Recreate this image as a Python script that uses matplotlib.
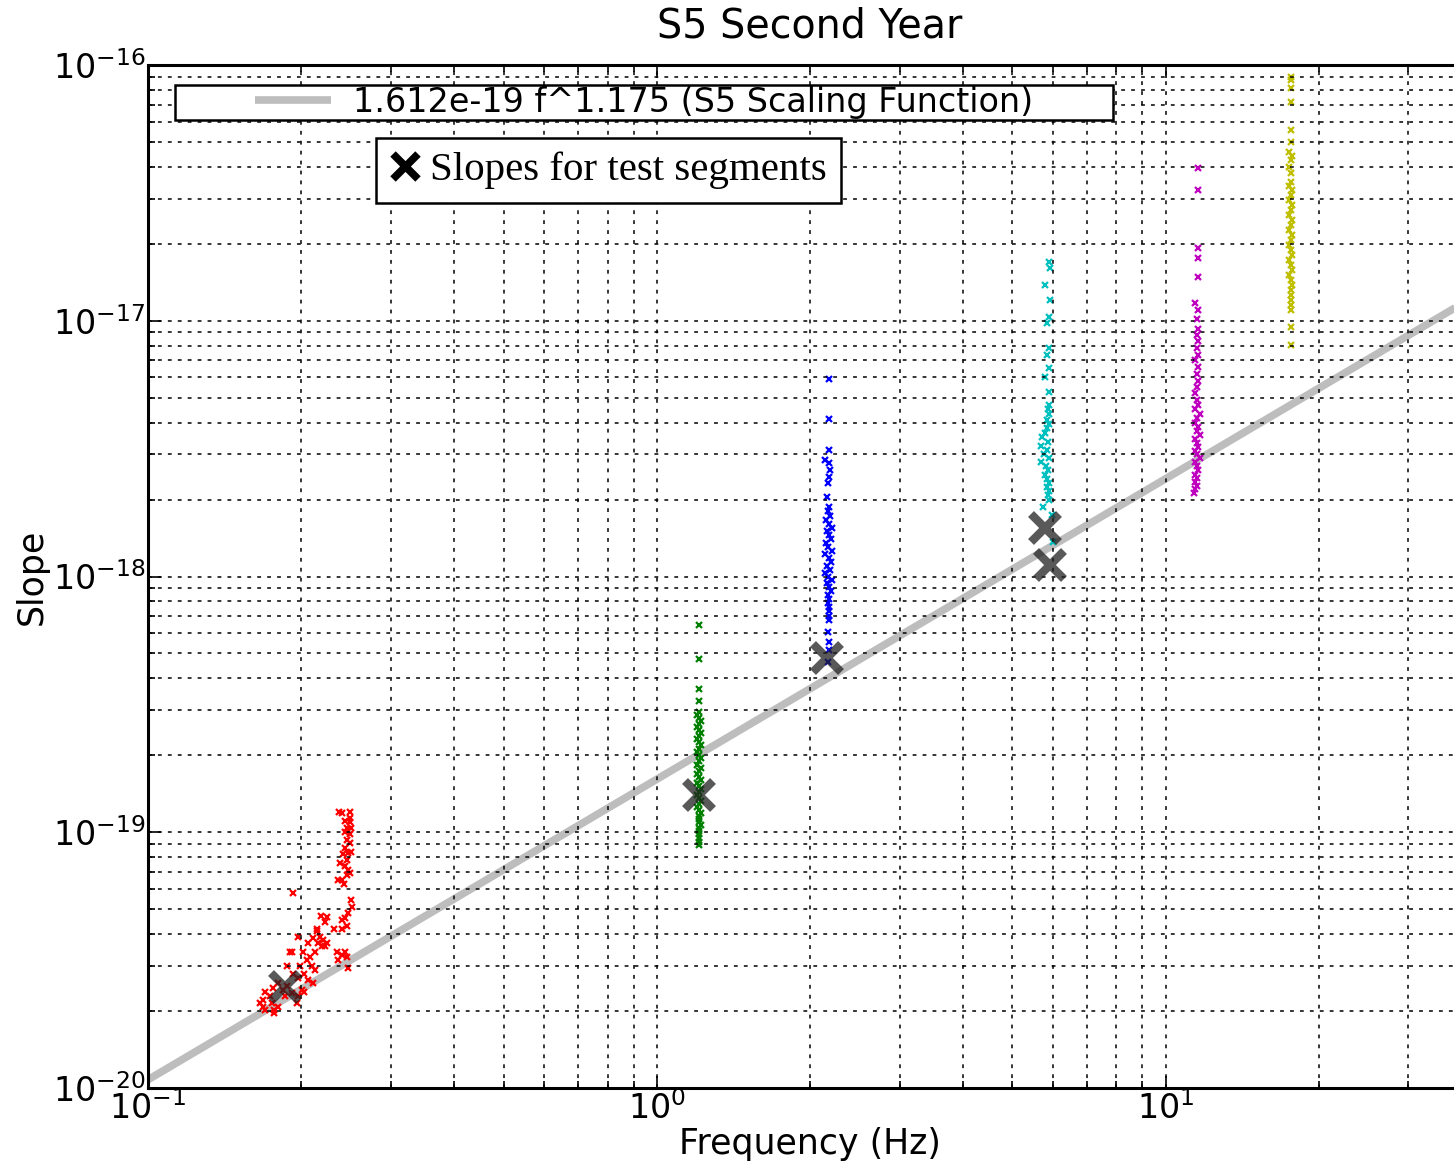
import matplotlib
matplotlib.use("Agg")
import matplotlib.pyplot as plt
from matplotlib.lines import Line2D
from matplotlib.patches import Rectangle
import numpy as np

# ---------------- data ----------------
fit_coef = 1.612e-19
fit_exp = 1.175
fit_f_range = [0.1, 40.0]

# slopes for test segments (big X markers)
test_f = [0.186, 1.209, 2.158, 5.78, 5.92]
test_s = [2.48e-20, 1.40e-19, 4.80e-19, 1.55e-18, 1.11e-18]

# red cluster
red_f = [0.237, 0.241, 0.249, 0.250, 0.244, 0.250, 0.246, 0.251, 0.244, 0.249,
         0.246, 0.250, 0.244, 0.251, 0.247, 0.242, 0.246, 0.238, 0.244, 0.247,
         0.249, 0.246, 0.236, 0.243, 0.241, 0.193,
         0.251, 0.252, 0.247, 0.244, 0.241, 0.225, 0.219, 0.215, 0.223, 0.232,
         0.241, 0.246, 0.215, 0.218, 0.221, 0.225, 0.220, 0.216, 0.211, 0.223,
         0.197, 0.206, 0.202, 0.208, 0.213, 0.190, 0.192, 0.235, 0.241, 0.244,
         0.246, 0.236, 0.247, 0.205, 0.199, 0.188, 0.210, 0.213, 0.203, 0.206,
         0.197, 0.193, 0.211, 0.203, 0.201, 0.176, 0.170, 0.174, 0.168, 0.166,
         0.168, 0.175, 0.177, 0.180, 0.186, 0.192, 0.197, 0.196, 0.184, 0.188,
         0.180, 0.170, 0.177]
red_s = [1.20e-19, 1.19e-19, 1.20e-19, 1.14e-19, 1.11e-19, 1.10e-19, 1.04e-19, 1.04e-19, 1.00e-19, 9.8e-20,
         9.3e-20, 9.1e-20, 8.7e-20, 8.4e-20, 8.3e-20, 8.2e-20, 7.8e-20, 7.6e-20, 7.4e-20, 7.1e-20,
         6.9e-20, 6.8e-20, 6.5e-20, 6.3e-20, 6.5e-20, 5.8e-20,
         5.43e-20, 5.1e-20, 4.85e-20, 4.6e-20, 4.54e-20, 4.65e-20, 4.7e-20, 4.2e-20, 4.45e-20, 4.2e-20,
         4.2e-20, 4.3e-20, 4.1e-20, 3.9e-20, 3.8e-20, 3.7e-20, 3.6e-20, 3.7e-20, 3.85e-20, 3.6e-20,
         3.9e-20, 3.7e-20, 3.4e-20, 3.26e-20, 3.4e-20, 3.4e-20, 3.4e-20, 3.4e-20, 3.3e-20, 3.4e-20,
         3.25e-20, 3.16e-20, 2.95e-20, 3.16e-20, 3.0e-20, 3.0e-20, 3.0e-20, 2.89e-20, 2.8e-20, 2.64e-20,
         2.7e-20, 2.8e-20, 2.57e-20, 2.38e-20, 2.42e-20, 2.46e-20, 2.38e-20, 2.28e-20, 2.21e-20, 2.15e-20,
         2.08e-20, 2.15e-20, 2.02e-20, 2.08e-20, 2.28e-20, 2.36e-20, 2.28e-20, 2.15e-20, 2.42e-20, 2.5e-20,
         2.57e-20, 2.02e-20, 1.96e-20]

# green column
green_f = [1.21, 1.21, 1.21, 1.21, 1.21, 1.20, 1.21, 1.22, 1.21, 1.20,
           1.21, 1.22, 1.21, 1.20, 1.21, 1.22, 1.21, 1.20, 1.21, 1.22,
           1.21, 1.20, 1.22, 1.21, 1.20, 1.21, 1.22, 1.20, 1.21, 1.22,
           1.21, 1.20, 1.21, 1.22, 1.21, 1.20, 1.21, 1.22, 1.21, 1.21,
           1.21, 1.22, 1.21, 1.21, 1.21, 1.21, 1.21, 1.21]
green_s = [6.46e-19, 4.75e-19, 3.63e-19, 3.26e-19, 2.95e-19, 2.88e-19, 2.80e-19, 2.72e-19, 2.66e-19, 2.58e-19,
           2.51e-19, 2.45e-19, 2.38e-19, 2.31e-19, 2.25e-19, 2.19e-19, 2.12e-19, 2.06e-19, 2.00e-19, 1.95e-19,
           1.90e-19, 1.84e-19, 1.79e-19, 1.74e-19, 1.69e-19, 1.65e-19, 1.60e-19, 1.56e-19, 1.52e-19, 1.48e-19,
           1.44e-19, 1.40e-19, 1.36e-19, 1.32e-19, 1.29e-19, 1.25e-19, 1.22e-19, 1.19e-19, 1.16e-19, 1.13e-19,
           1.10e-19, 1.07e-19, 1.04e-19, 1.01e-19, 9.8e-20, 9.5e-20, 9.2e-20, 8.9e-20]

# blue column
blue_f = [2.18, 2.18, 2.18, 2.14, 2.18, 2.19, 2.18, 2.17, 2.16,
          2.18, 2.17, 2.19, 2.15, 2.18, 2.21, 2.16, 2.18, 2.20, 2.15,
          2.17, 2.21, 2.14, 2.18, 2.20, 2.16, 2.19, 2.14, 2.17, 2.21,
          2.16, 2.18, 2.20, 2.17, 2.18, 2.17, 2.18, 2.18, 2.18, 2.18,
          2.17, 2.18, 2.18, 2.17]
blue_s = [5.92e-18, 4.13e-18, 3.13e-18, 2.85e-18, 2.78e-18, 2.61e-18, 2.45e-18, 2.32e-18, 2.05e-18,
          1.87e-18, 1.80e-18, 1.73e-18, 1.66e-18, 1.60e-18, 1.55e-18, 1.50e-18, 1.45e-18, 1.40e-18, 1.35e-18,
          1.30e-18, 1.26e-18, 1.22e-18, 1.18e-18, 1.14e-18, 1.10e-18, 1.06e-18, 1.03e-18, 1.00e-18, 9.7e-19,
          9.4e-19, 9.1e-19, 8.8e-19, 8.5e-19, 8.2e-19, 7.9e-19, 7.6e-19, 7.3e-19, 7.0e-19, 6.76e-19,
          6.07e-19, 5.55e-19, 5.16e-19, 4.63e-19]

# cyan column
cyan_f = [5.89, 5.93, 5.80, 5.93, 5.89, 5.84, 5.89, 5.84, 5.89, 5.80, 5.89,
          5.89, 5.87, 5.89, 5.85, 5.89, 5.84, 5.80, 5.72, 5.87, 5.68, 5.84,
          5.76, 5.89, 5.70, 5.82, 5.87, 5.80, 5.84, 5.89, 5.84, 5.89, 5.87,
          5.89, 5.73, 5.97, 6.00]
cyan_s = [1.70e-17, 1.61e-17, 1.38e-17, 1.21e-17, 1.03e-17, 9.8e-18, 7.82e-18, 7.35e-18, 6.53e-18, 6.03e-18, 5.26e-18,
          4.69e-18, 4.50e-18, 4.30e-18, 4.10e-18, 3.95e-18, 3.80e-18, 3.65e-18, 3.50e-18, 3.37e-18, 3.25e-18, 3.13e-18,
          3.02e-18, 2.91e-18, 2.80e-18, 2.70e-18, 2.60e-18, 2.50e-18, 2.41e-18, 2.32e-18, 2.24e-18, 2.16e-18, 2.08e-18,
          1.99e-18, 1.87e-18, 1.74e-18, 1.36e-18]

# magenta column
magenta_f = [11.6, 11.6, 11.6, 11.6, 11.6, 11.4,
             11.6, 11.5, 11.6, 11.5, 11.6, 11.5, 11.6, 11.4, 11.6, 11.5, 11.6, 11.5, 11.4,
             11.5, 11.6, 11.4, 11.7, 11.5, 11.4, 11.6, 11.5, 11.7, 11.4, 11.5, 11.6, 11.4,
             11.5, 11.7, 11.4, 11.5, 11.6, 11.4, 11.5, 11.4, 11.5, 11.4, 11.35]
magenta_s = [3.96e-17, 3.25e-17, 1.92e-17, 1.76e-17, 1.48e-17, 1.17e-17,
             1.10e-17, 1.02e-17, 9.3e-18, 8.8e-18, 8.3e-18, 7.8e-18, 7.35e-18, 7.0e-18, 6.6e-18, 6.2e-18, 5.8e-18, 5.5e-18, 5.2e-18,
             4.9e-18, 4.7e-18, 4.5e-18, 4.3e-18, 4.15e-18, 4.0e-18, 3.85e-18, 3.7e-18, 3.57e-18, 3.45e-18, 3.33e-18, 3.2e-18, 3.1e-18,
             3.0e-18, 2.9e-18, 2.8e-18, 2.7e-18, 2.6e-18, 2.5e-18, 2.42e-18, 2.34e-18, 2.26e-18, 2.19e-18, 2.12e-18]

# yellow column
yellow_f = [17.6, 17.6, 17.6, 17.6, 17.6, 17.6, 17.5, 17.7, 17.6, 17.5, 17.6,
            17.6, 17.5, 17.7, 17.6, 17.5, 17.7, 17.6, 17.5, 17.7, 17.6, 17.5,
            17.7, 17.6, 17.5, 17.6, 17.7, 17.5, 17.6, 17.7, 17.5, 17.6, 17.7,
            17.6, 17.6, 17.6, 17.6, 17.6, 17.6, 17.6]
yellow_s = [8.98e-17, 8.74e-17, 8.13e-17, 7.17e-17, 5.57e-17, 5.00e-17, 4.57e-17, 4.40e-17, 4.25e-17, 4.00e-17, 3.79e-17,
            3.49e-17, 3.37e-17, 3.25e-17, 3.11e-17, 2.97e-17, 2.84e-17, 2.71e-17, 2.60e-17, 2.48e-17, 2.37e-17, 2.26e-17,
            2.16e-17, 2.07e-17, 1.98e-17, 1.89e-17, 1.81e-17, 1.73e-17, 1.65e-17, 1.58e-17, 1.51e-17, 1.44e-17, 1.38e-17,
            1.32e-17, 1.26e-17, 1.21e-17, 1.15e-17, 1.10e-17, 9.46e-18, 8.04e-18]

series = [
    (red_f, red_s, "#ff0000"),
    (green_f, green_s, "#008000"),
    (blue_f, blue_s, "#0000ff"),
    (cyan_f, cyan_s, "#00bfbf"),
    (magenta_f, magenta_s, "#bf00bf"),
    (yellow_f, yellow_s, "#bfbf00"),
]

title = "S5 Second Year"
xlabel = "Frequency (Hz)"
ylabel = "Slope"
fit_label = "1.612e-19 f^1.175 (S5 Scaling Function)"
test_label = "Slopes for test segments"

# ---------------- figure ----------------
W, H = 1454, 1173
fig = plt.figure(figsize=(W / 100, H / 100), dpi=100)
ax_left, ax_right, ax_top, ax_bottom = 148, 1472, 65, 1088
ax = fig.add_axes([ax_left / W, 1 - ax_bottom / H, (ax_right - ax_left) / W, (ax_bottom - ax_top) / H])
ax.set_xscale("log")
ax.set_yscale("log")
ax.set_xlim(0.1, 40)
ax.set_ylim(1e-20, 1e-16)

fit_f = np.array(fit_f_range)
fit_line, = ax.plot(fit_f, fit_coef * fit_f ** fit_exp, color="#bdbdbd", lw=5.5,
                    solid_capstyle="butt", zorder=1.5)

for f, s, c in series:
    ax.plot(f, s, linestyle="none", marker="x", color=c, ms=4.5, mew=1.6, zorder=2)

ax.plot(test_f, test_s, linestyle="none", marker="x", color="#222222", alpha=0.75,
        ms=20, mew=6, zorder=3)

ax.set_axisbelow(False)
ax.grid(True, which="both", color="k", linestyle=(0, (2.5, 4)), lw=1.1)

for sp in ax.spines.values():
    sp.set_linewidth(2.2)
ax.tick_params(which="both", direction="in", top=True, right=True, width=1.2)
ax.tick_params(which="major", length=9, labelsize=24, pad=2)
ax.tick_params(which="minor", length=5)

ax.set_title(title, fontsize=28.5, pad=20)
ax.set_xlabel(xlabel, fontsize=25, labelpad=1)
ax.set_ylabel(ylabel, fontsize=25, labelpad=3)

# scaling-function legend: wide box with centred content
box = Rectangle((0.0204, 0.9462), 0.7085, 0.0342, transform=ax.transAxes,
                facecolor="white", edgecolor="k", lw=1.8, zorder=4)
ax.add_patch(box)
leg1 = ax.legend([fit_line], [fit_label], loc="center",
                 bbox_to_anchor=(0.3746, 0.9633), borderaxespad=0,
                 fontsize=24, handlelength=2.3, handletextpad=0.65,
                 borderpad=0.0, frameon=False)
leg1.set_zorder(5)
ax.add_artist(leg1)

x_handle = Line2D([], [], linestyle="none", marker="x", color="k", ms=18, mew=5.5)
leg2 = ax.legend([x_handle], [test_label], loc="upper left",
                 bbox_to_anchor=(0.1722, 0.9286), borderaxespad=0,
                 prop={"family": "Liberation Serif", "size": 29.5},
                 handlelength=0.75, handletextpad=0.25, borderpad=0.33,
                 fancybox=False, framealpha=1, edgecolor="k")
leg2.get_frame().set_linewidth(1.8)
leg2.set_zorder(5)

fig.savefig("out.png", dpi=100)
